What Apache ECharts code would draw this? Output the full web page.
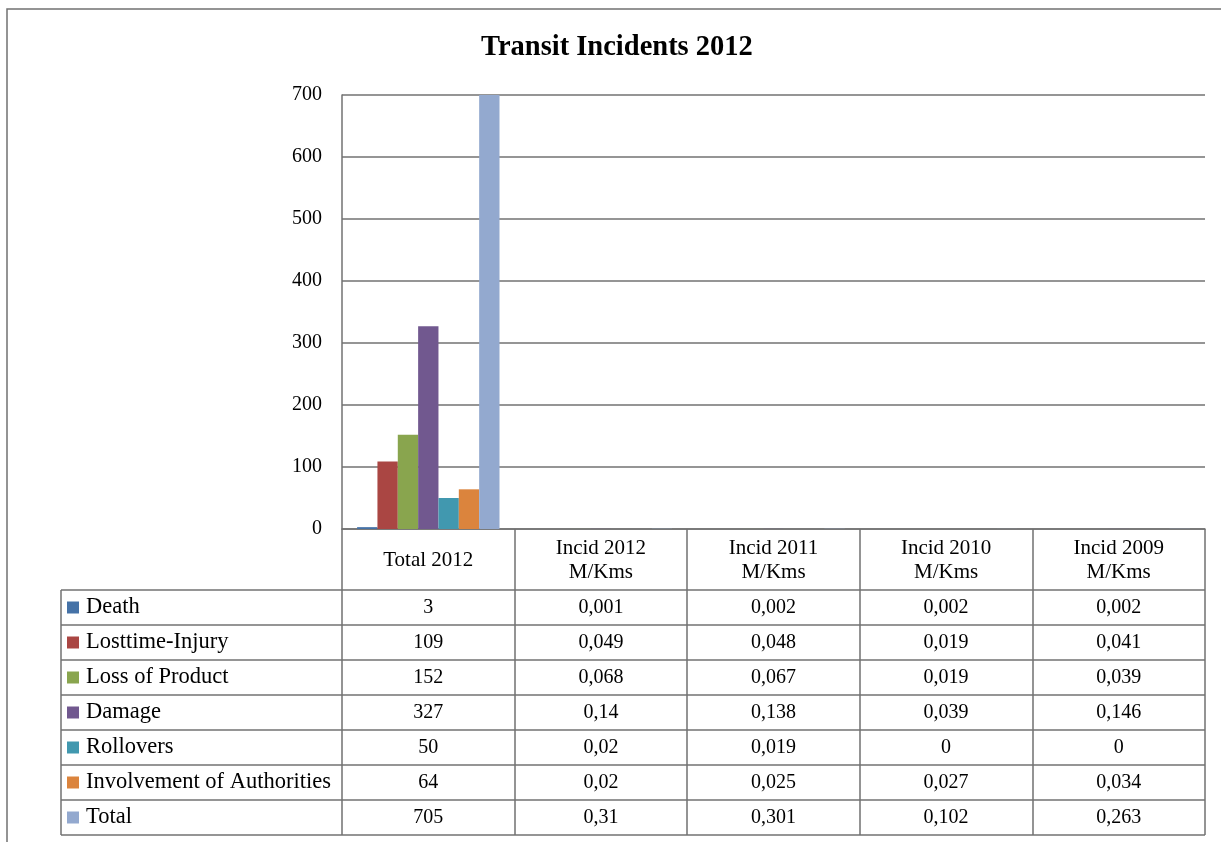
<!DOCTYPE html>
<html>
<head>
<meta charset="utf-8">
<script src="https://cdn.jsdelivr.net/npm/echarts@6/dist/echarts.min.js"></script>
<style>
html,body{margin:0;padding:0;background:#fff;}
#c{width:1221px;height:842px;}
</style>
</head>
<body>
<div id="c"></div>
<script>
// ---- data ----
var categories = ['Total 2012', 'Incid 2012\nM/Kms', 'Incid 2011\nM/Kms', 'Incid 2010\nM/Kms', 'Incid 2009\nM/Kms'];
var seriesNames = ['Death', 'Losttime-Injury', 'Loss of Product', 'Damage', 'Rollovers', 'Involvement of Authorities', 'Total'];
var death        = [3, 0.001, 0.002, 0.002, 0.002];
var losttime     = [109, 0.049, 0.048, 0.019, 0.041];
var lossProduct  = [152, 0.068, 0.067, 0.019, 0.039];
var damage       = [327, 0.14, 0.138, 0.039, 0.146];
var rollovers    = [50, 0.02, 0.019, 0, 0];
var involvement  = [64, 0.02, 0.025, 0.027, 0.034];
var total        = [705, 0.31, 0.301, 0.102, 0.263];
var seriesData = [death, losttime, lossProduct, damage, rollovers, involvement, total];
var yTicks = [0, 100, 200, 300, 400, 500, 600, 700];
var colors = ['#4572A7', '#AA4643', '#89A54E', '#71588F', '#4198AF', '#DB843D', '#93A9CF'];

// ---- layout ----
var W = 1221, H = 842;
var gridLeft = 342, gridRightX = 1205, gridTop = 95, axisY = 529;
var headerH = 61, rowH = 35, tableLeft = 61;
var lineColor = '#727272';
var FONT = 'Liberation Serif';

function fmt(v) { return String(v).replace('.', ','); }

var chart = echarts.init(document.getElementById('c'), null, {renderer: 'canvas'});

var xAxes = [{
  type: 'category',
  data: categories,
  position: 'bottom',
  axisLine: {show: true, lineStyle: {color: lineColor, width: 1.5}},
  axisTick: {show: true, interval: 0, length: headerH + rowH * seriesNames.length, lineStyle: {color: lineColor, width: 1.5}},
  axisLabel: {show: true, interval: 0, margin: headerH / 2 + 1, verticalAlign: 'middle', lineHeight: 24,
              fontFamily: FONT, fontSize: 21, color: '#000'},
  splitLine: {show: false}
}];
seriesData.forEach(function (arr, i) {
  xAxes.push({
    type: 'category',
    data: categories,
    position: 'bottom',
    offset: headerH + rowH * i + rowH / 2,
    axisLine: {show: false}, axisTick: {show: false}, splitLine: {show: false},
    axisLabel: {show: true, interval: 0, margin: 0, verticalAlign: 'middle',
      fontFamily: FONT, fontSize: 20, color: '#000',
      formatter: (function (a) { return function (v, idx) { return fmt(a[idx]); }; })(arr)}
  });
});

var graphics = [];
// outer frame
graphics.push({type: 'rect', shape: {x: 7, y: 9, width: W + 20, height: H + 20}, style: {fill: 'none', stroke: lineColor, lineWidth: 1.5}, silent: true});
// table horizontal lines
for (var r = 0; r <= seriesNames.length; r++) {
  var yy = axisY + headerH + rowH * r;
  graphics.push({type: 'line', shape: {x1: tableLeft, y1: yy, x2: gridRightX, y2: yy}, style: {stroke: lineColor, lineWidth: 1.5}, silent: true});
}
// table left border
graphics.push({type: 'line', shape: {x1: tableLeft, y1: axisY + headerH, x2: tableLeft, y2: axisY + headerH + rowH * seriesNames.length}, style: {stroke: lineColor, lineWidth: 1.5}, silent: true});

var option = {
  animation: false,
  backgroundColor: '#fff',
  color: colors,
  title: {
    text: 'Transit Incidents 2012',
    left: 481, top: 33, padding: 0,
    textStyle: {fontFamily: FONT, fontWeight: 'bold', fontSize: 28.5, color: '#000'}
  },
  legend: {
    data: seriesNames,
    orient: 'vertical',
    left: 67, top: axisY + headerH,
    height: rowH * seriesNames.length + 10,
    padding: 0, itemGap: 0,
    itemWidth: 12, itemHeight: 12, icon: 'rect',
    selectedMode: false,
    textStyle: {fontFamily: FONT, fontSize: 22.5, color: '#000', lineHeight: rowH, padding: [0, 0, 0, 2]}
  },
  grid: {left: gridLeft, right: W - gridRightX, top: gridTop, bottom: H - axisY, containLabel: false},
  xAxis: xAxes,
  yAxis: {
    type: 'value', min: yTicks[0], max: yTicks[yTicks.length - 1], interval: 100,
    axisLine: {show: true, lineStyle: {color: lineColor, width: 1.5}},
    axisTick: {show: false},
    axisLabel: {margin: 20, fontFamily: FONT, fontSize: 20, color: '#000', padding: [4, 0, 0, 0]},
    splitLine: {show: true, lineStyle: {color: lineColor, width: 1.5}}
  },
  series: seriesNames.map(function (n, i) {
    return {
      name: n, type: 'bar', xAxisIndex: 0, data: seriesData[i],
      barGap: 0, barCategoryGap: '17.5%', clip: true,
      itemStyle: {color: colors[i]}
    };
  }),
  graphic: graphics
};
chart.setOption(option);
</script>
</body>
</html>
